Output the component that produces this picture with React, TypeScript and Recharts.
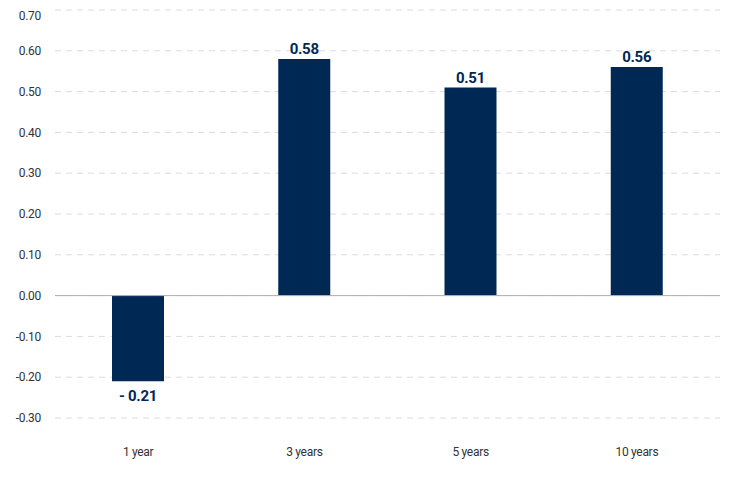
import React from 'react';
import { BarChart, Bar, XAxis, YAxis, CartesianGrid, ReferenceLine, LabelList } from 'recharts';

const categories = ['1 year', '3 years', '5 years', '10 years'];
const values = [-0.21, 0.58, 0.51, 0.56];
const yTicks = [-0.3, -0.2, -0.1, 0, 0.1, 0.2, 0.3, 0.4, 0.5, 0.6, 0.7];

const data = categories.map((name, i) => ({ name, value: values[i] }));

const NAVY = '#002855';
const FONT = 'Roboto, "Liberation Sans", sans-serif';

const formatValue = (v: number) => (v < 0 ? `- ${Math.abs(v).toFixed(2)}` : v.toFixed(2));

// label above positive bars, below negative ones
const ValueLabel = (props: any) => {
  const { x, y, width, height, value } = props;
  const top = Math.min(y, y + height);
  const bottom = Math.max(y, y + height);
  const cx = x + width / 2;
  const ty = value < 0 ? bottom + 20 : top - 5;
  return (
    <text x={cx} y={ty} textAnchor="middle" fill={NAVY} fontSize={15} fontWeight={700} fontFamily={FONT} letterSpacing={-0.3}>
      {formatValue(value)}
    </text>
  );
};

const App: React.FC = () => {
  return (
    <BarChart
      width={729}
      height={487}
      data={data}
      margin={{ top: 2, right: 17, bottom: 0, left: 0 }}
      barSize={52}
    >
      <CartesianGrid vertical={false} stroke="#dcdcdc" strokeDasharray="6 5" />
      <XAxis
        dataKey="name"
        axisLine={false}
        tickLine={false}
        tickMargin={23}
        height={77}
        tick={{ fill: '#333', fontSize: 12, fontFamily: FONT, letterSpacing: -0.3 }}
      />
      <YAxis
        domain={[-0.3, 0.7]}
        ticks={yTicks}
        width={47}
        axisLine={false}
        tickLine={false}
        tickMargin={8}
        tickFormatter={(v: number) => v.toFixed(2)}
        tick={{ fill: '#333', fontSize: 12, fontFamily: FONT, letterSpacing: -0.3 }}
      />
      <ReferenceLine y={0} stroke="#b0b0b0" />
      <Bar dataKey="value" fill={NAVY} isAnimationActive={false}>
        <LabelList dataKey="value" content={ValueLabel} />
      </Bar>
    </BarChart>
  );
};

export default App;
